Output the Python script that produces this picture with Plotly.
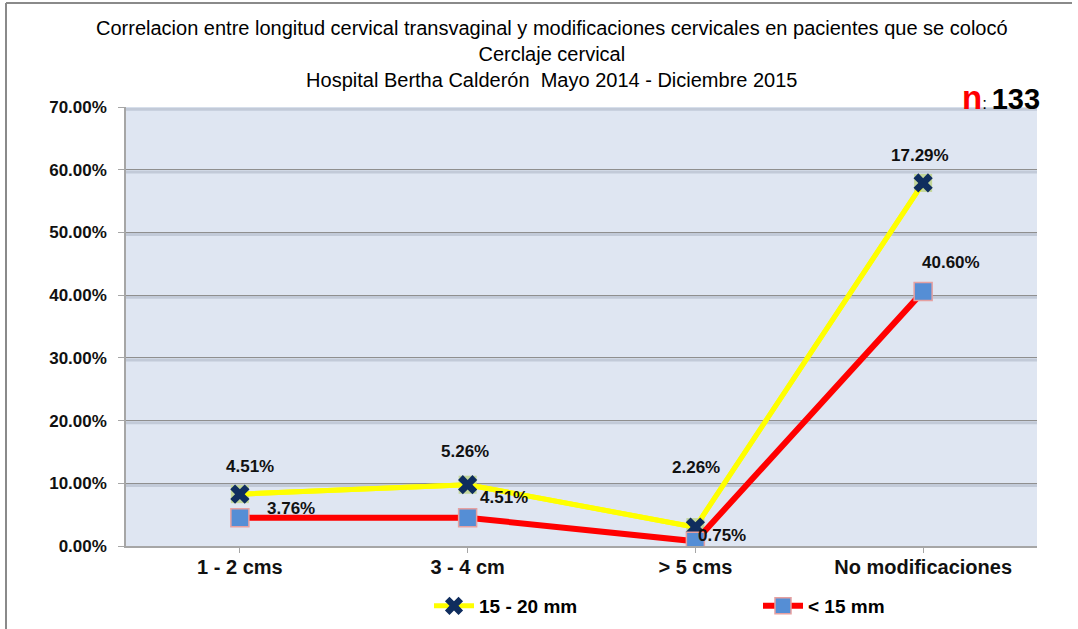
import plotly.graph_objects as go
import numpy as np

# ---------------- data ----------------
categories = ["1 - 2 cms", "3 - 4 cm", "> 5 cms", "No modificaciones"]
series_red_name = "< 15 mm"
series_yellow_name = "15 - 20 mm"
# plotted values (percent); the yellow series is stacked on top of the red one
red_values = [4.51, 4.51, 0.75, 40.60]
yellow_values = [3.76, 5.26, 2.26, 17.29]
# data-label texts as printed on the chart
red_labels = ["3.76%", "4.51%", "0.75%", "40.60%"]
yellow_labels = ["4.51%", "5.26%", "2.26%", "17.29%"]
y_ticks = [0, 10, 20, 30, 40, 50, 60, 70]
y_tick_labels = ["0.00%", "10.00%", "20.00%", "30.00%", "40.00%", "50.00%", "60.00%", "70.00%"]
title_lines = [
    "Correlacion entre longitud cervical transvaginal y modificaciones cervicales en pacientes que se colocó",
    "Cerclaje cervical",
    "Hospital Bertha Calderón  Mayo 2014 - Diciembre 2015",
]
n_total = "133"

# ---------------- styling / layout ----------------
W, H = 1078, 629
PL, PR, PT, PB = 126, 1037, 107, 546   # plot area in pixels
FONT = "Arial, Liberation Sans, sans-serif"

def px_x(X):
    return (X - PL) / (PR - PL)

def px_y(Y):
    return (PB - Y) / (PB - PT)

# label offsets in pixels (dx, dy with dy positive = down)
yellow_label_off = [(10, -28), (-3, -33), (1, -60), (-3, -27)]
red_label_off = [(51, -9), (36, -20), (27, -6), (28, -29)]

red_arr = np.array(red_values)
yellow_top = red_arr + np.array(yellow_values)
xs = list(range(len(categories)))

fig = go.Figure()

# green square backing for the yellow series markers
fig.add_trace(go.Scatter(
    x=xs, y=yellow_top, mode="lines+markers", name=series_yellow_name,
    line=dict(color="#ffff00", width=5),
    marker=dict(symbol="square", size=18, color="#c3d69b", line=dict(width=0)),
    showlegend=False, hoverinfo="skip",
))
fig.add_trace(go.Scatter(
    x=xs, y=yellow_top, mode="lines+markers", name="<b>%s</b>" % series_yellow_name,
    line=dict(color="#ffff00", width=5),
    marker=dict(symbol="x", size=17, color="#0f2d5e", line=dict(width=0)),
    hoverinfo="skip",
))
fig.add_trace(go.Scatter(
    x=xs, y=red_arr, mode="lines+markers", name="<b>%s</b>" % series_red_name,
    line=dict(color="#ff0000", width=6),
    marker=dict(symbol="square", size=18, color="#558ed5",
                line=dict(color="#e6a0a0", width=1.5)),
    hoverinfo="skip",
))

annotations = []
for i, (xv, yv) in enumerate(zip(xs, yellow_top)):
    dx, dy = yellow_label_off[i]
    annotations.append(dict(x=xv, y=yv, xref="x", yref="y", text="<b>%s</b>" % yellow_labels[i],
                            showarrow=False, xshift=dx, yshift=-dy,
                            font=dict(family=FONT, size=17, color="#111111")))
for i, (xv, yv) in enumerate(zip(xs, red_arr)):
    dx, dy = red_label_off[i]
    annotations.append(dict(x=xv, y=yv, xref="x", yref="y", text="<b>%s</b>" % red_labels[i],
                            showarrow=False, xshift=dx, yshift=-dy,
                            font=dict(family=FONT, size=17, color="#111111")))

# three-line title as one centred text block
annotations.append(dict(x=px_x(552), y=px_y(54), xref="paper", yref="paper",
                        text="<br>".join(title_lines), showarrow=False,
                        xanchor="center", yanchor="middle", align="center",
                        font=dict(family=FONT, size=20, color="#000000")))

annotations.append(dict(
    x=px_x(1042), y=px_y(97), xref="paper", yref="paper", xanchor="right", yanchor="middle",
    showarrow=False,
    text="<b><span style='color:#ff0000;font-size:33px'>n</span></b>"
         "<span style='font-size:17px'>: </span><b>%s</b>" % n_total,
    font=dict(family=FONT, size=29, color="#000000"),
))

shapes = [
    # outer frame (top and left edges)
    dict(type="line", xref="paper", yref="paper", x0=px_x(6), x1=px_x(1072), y0=px_y(3), y1=px_y(3),
         line=dict(color="#8a8a8a", width=2)),
    dict(type="line", xref="paper", yref="paper", x0=px_x(6), x1=px_x(6), y0=px_y(3), y1=px_y(632),
         line=dict(color="#8a8a8a", width=2)),
]
# soft shadow under each gridline
for t in y_ticks[1:]:
    shapes.append(dict(type="line", xref="paper", yref="y", x0=0, x1=1, y0=t - 0.35, y1=t - 0.35,
                       line=dict(color="rgba(140,150,170,0.35)", width=3), layer="below"))

fig.update_layout(
    width=W, height=H,
    margin=dict(l=PL, r=W - PR, t=PT, b=H - PB, pad=0, autoexpand=False),
    paper_bgcolor="#ffffff",
    plot_bgcolor="#dfe6f2",
    font=dict(family=FONT, color="#000000"),
    showlegend=True,
    legend=dict(orientation="h", x=px_x(429), y=px_y(606), xanchor="left", yanchor="middle",
                font=dict(family=FONT, size=19, color="#000000"),
                entrywidth=274, entrywidthmode="pixels", bgcolor="rgba(0,0,0,0)",
                traceorder="normal", itemwidth=40),
    annotations=annotations,
    shapes=shapes,
    xaxis=dict(
        range=[-0.5, len(categories) - 0.5],
        tickmode="array", tickvals=xs, ticktext=["<b>%s</b>" % c for c in categories],
        tickfont=dict(family=FONT, size=20, color="#111111"),
        showgrid=False, zeroline=False,
        showline=True, linecolor="#a6a6a6", linewidth=1.5,
        ticks="outside", ticklen=5, tickcolor="#a6a6a6",
        ticklabelstandoff=-3,
        tickson="boundaries",
        fixedrange=True,
    ),
    yaxis=dict(
        range=[0, 70],
        tickmode="array", tickvals=y_ticks, ticktext=["<b>%s</b>" % t for t in y_tick_labels],
        tickfont=dict(family=FONT, size=17, color="#111111"),
        showgrid=True, gridcolor="#8f8f8f", gridwidth=1.2,
        zeroline=False,
        showline=True, linecolor="#a6a6a6", linewidth=1.5,
        ticks="outside", ticklen=6, tickcolor="#a6a6a6",
        ticklabelstandoff=8,
        fixedrange=True,
    ),
)

fig.write_html("out.html", config={"displayModeBar": False},
               post_script="document.body.style.margin='0';")
